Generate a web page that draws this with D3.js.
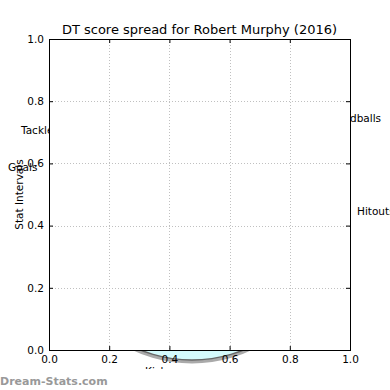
<!DOCTYPE html>
<html><head><meta charset="utf-8">
<script src="https://cdn.jsdelivr.net/npm/d3@7"></script>
<style>body{margin:0;background:#fff}svg{display:block}text{font-family:"DejaVu Sans",sans-serif}</style>
</head><body>
<script>
const title = "DT score spread for Robert Murphy (2016)";
const xTicks = [0, 0.2, 0.4, 0.6, 0.8, 1.0];
const yTicks = [0, 0.2, 0.4, 0.6, 0.8, 1.0];
const categories = ["Hitouts", "Handballs", "Tackles", "Goals", "Kicks"];
const spreadValues = [1, 1, 1, 1, 1];

// layout only (label anchor points of the hidden radar, in px)
const labelLayout = {Hitouts: [357, 211], Handballs: [329, 118], Tackles: [21, 130], Goals: [8, 167], Kicks: [145, 371]};

const W = 390, H = 390;
const m = {l: 49, r: 350, t: 39, b: 350};
const svg = d3.select("body").append("svg").attr("width", W).attr("height", H);

// hidden radar (drawn first, mostly covered by axes background)
const cx = 192, cy = 281;
const rxScale = d3.scaleLinear().domain([0, 1]).range([0, 106]);
const ryScale = d3.scaleLinear().domain([0, 1]).range([0, 79]);
const v = d3.mean(spreadValues);
const radar = svg.append("g").attr("transform", `translate(${cx},${cy})`);
radar.append("ellipse").attr("cx", 0).attr("cy", 1.5).attr("rx", rxScale(v)).attr("ry", ryScale(v))
  .attr("fill", "none").attr("stroke", "#aaa").attr("stroke-width", 4);
radar.append("ellipse").attr("rx", rxScale(v)).attr("ry", ryScale(v))
  .attr("fill", "#d4fafc").attr("stroke", "#666").attr("stroke-width", 1.3);

svg.selectAll("text.cat").data(categories).join("text").attr("class", "cat")
  .attr("x", d => labelLayout[d][0]).attr("y", d => labelLayout[d][1])
  .attr("dy", "0.35em").attr("font-size", 10.5).text(d => d);

// axes
const x = d3.scaleLinear().domain([0, 1]).range([m.l, m.r]);
const y = d3.scaleLinear().domain([0, 1]).range([m.b, m.t]);
svg.append("rect").attr("x", m.l).attr("y", m.t).attr("width", m.r - m.l).attr("height", m.b - m.t).attr("fill", "#fff");

const grid = svg.append("g").attr("stroke", "#c0c0c0").attr("stroke-dasharray", "1,2");
grid.selectAll("line.v").data(xTicks.slice(1, -1)).join("line")
  .attr("x1", d => Math.round(x(d)) + 0.5).attr("x2", d => Math.round(x(d)) + 0.5).attr("y1", m.t).attr("y2", m.b);
grid.selectAll("line.h").data(yTicks.slice(1, -1)).join("line")
  .attr("y1", d => Math.round(y(d)) + 0.5).attr("y2", d => Math.round(y(d)) + 0.5).attr("x1", m.l).attr("x2", m.r);

const gx = svg.append("g").attr("transform", `translate(0,${m.b})`)
  .call(d3.axisBottom(x).tickValues(xTicks).tickFormat(d3.format(".1f")).tickSizeInner(-4).tickSizeOuter(0).tickPadding(6));
const gy = svg.append("g").attr("transform", `translate(${m.l},0)`)
  .call(d3.axisLeft(y).tickValues(yTicks).tickFormat(d3.format(".1f")).tickSizeInner(-4).tickSizeOuter(0).tickPadding(5));
svg.append("g").attr("transform", `translate(0,${m.t})`)
  .call(d3.axisTop(x).tickValues(xTicks).tickFormat("").tickSizeInner(-4).tickSizeOuter(0));
svg.append("g").attr("transform", `translate(${m.r},0)`)
  .call(d3.axisRight(y).tickValues(yTicks).tickFormat("").tickSizeInner(-4).tickSizeOuter(0));
svg.selectAll(".domain").remove();
svg.selectAll(".tick line").attr("stroke", "#000");
gx.selectAll("text").attr("font-size", 10.5).attr("fill", "#000").attr("font-family", "DejaVu Sans");
gy.selectAll("text").attr("font-size", 10.5).attr("fill", "#000").attr("font-family", "DejaVu Sans");

svg.append("rect").attr("x", m.l + 0.5).attr("y", m.t + 0.5).attr("width", m.r - m.l).attr("height", m.b - m.t)
  .attr("fill", "none").attr("stroke", "#000").attr("stroke-width", 1);

svg.append("text").attr("x", (m.l + m.r) / 2).attr("y", 34).attr("text-anchor", "middle")
  .attr("font-size", 13).text(title);
svg.append("text").attr("transform", `translate(23,${(m.t + m.b) / 2}) rotate(-90)`).attr("text-anchor", "middle")
  .attr("font-size", 10.5).text("Stat Intervals");

svg.append("rect").attr("x", 0).attr("y", 369).attr("width", W).attr("height", H - 369).attr("fill", "#fff");
svg.append("text").attr("x", 0).attr("y", 385).attr("font-size", 11).attr("font-weight", "bold")
  .attr("fill", "#999").text("Dream-Stats.com");
</script>
</body></html>
